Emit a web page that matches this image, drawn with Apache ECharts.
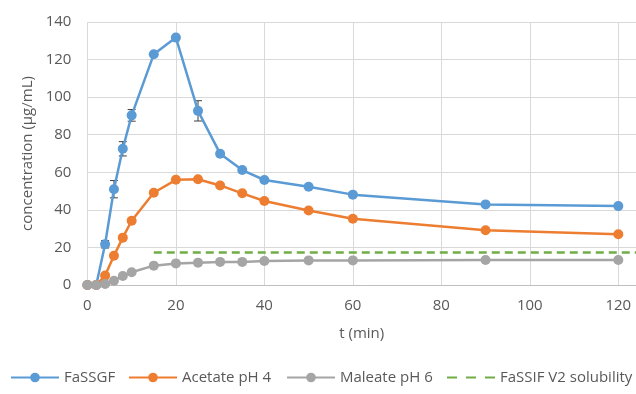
<!DOCTYPE html>
<html>
<head>
<meta charset="utf-8">
<script src="https://cdn.jsdelivr.net/npm/echarts@6/dist/echarts.min.js"></script>
<style>
  html, body { margin: 0; padding: 0; background: #fff; }
  #chart { width: 636px; height: 394px; }
</style>
</head>
<body>
<div id="chart"></div>
<script>
// Sampling times (min)
var times = [0, 2, 4, 6, 8, 10, 15, 20, 25, 30, 35, 40, 50, 60, 90, 120];

// Concentrations (µg/mL) per medium
var fassgf    = [0, 0, 21.7, 51.0, 72.5, 90.3, 122.8, 131.7, 92.7, 69.9, 61.2, 55.9, 52.3, 48.1, 42.9, 42.0];
var fassgfErr = [0, 0, 2.0, 4.6, 3.8, 3.1, 0, 0, 5.4, 0, 0, 0, 0, 0, 0, 0];
var acetate   = [0, 0, 5.0, 15.6, 25.2, 34.2, 49.1, 56.0, 56.3, 53.0, 48.8, 44.7, 39.7, 35.3, 29.1, 27.0];
var maleate   = [0, 0, 0.5, 2.3, 4.8, 6.8, 10.3, 11.5, 11.9, 12.3, 12.3, 12.8, 13.1, 13.1, 13.3, 13.3];

// FaSSIF V2 solubility reference level
var solubilityTimes = [15, 140];
var solubilityLevel = 17.3;

// Axis ticks
var xTicks = { min: 0, max: 124, interval: 20 };
var yTicks = { min: 0, max: 140, interval: 20 };

var seriesNames = ['FaSSGF', 'Acetate pH 4', 'Maleate pH 6', 'FaSSIF V2 solubility'];
var seriesColors = ['#5B9BD5', '#ED7D31', '#A5A5A5', '#70AD47'];

function pairs(xs, ys) {
  return xs.map(function (x, i) { return [x, ys[i]]; });
}

var FONT = '"Open Sans", sans-serif';
var TXT = '#595959';
var GRIDC = '#D9D9D9';

var chart = echarts.init(document.getElementById('chart'), null, { renderer: 'canvas' });

function lineSeries(name, values, color) {
  return {
    name: name,
    type: 'line',
    data: pairs(times, values),
    symbol: 'circle',
    symbolSize: 10,
    showSymbol: true,
    lineStyle: { color: color, width: 2.5 },
    itemStyle: { color: color },
    emphasis: { disabled: true },
    animation: false
  };
}

// one legend box per entry so the row spans the full width
var legendLefts = [10, 128, 286, 446];
var legends = seriesNames.map(function (n, i) {
  var lg = {
    data: [n],
    left: legendLefts[i],
    top: 370,
    padding: 0,
    itemWidth: 48,
    itemHeight: 12,
    textStyle: { fontFamily: FONT, fontSize: 15, color: TXT },
    selectedMode: false
  };
  // the solubility level is a plain dashed line, no marker in its key
  if (i === 3) {
    lg.itemStyle = { opacity: 0 };
    lg.lineStyle = { type: [10, 9] };
  }
  return lg;
});

var errData = times.map(function (t, i) { return [t, fassgf[i], fassgfErr[i]]; })
  .filter(function (d) { return d[2] > 0; });

chart.setOption({
  animation: false,
  backgroundColor: '#ffffff',
  grid: { left: 87.4, right: -0.7, top: 22, bottom: 109 },
  legend: legends,
  xAxis: {
    type: 'value',
    min: xTicks.min,
    max: xTicks.max,
    interval: xTicks.interval,
    name: 't (min)',
    nameLocation: 'middle',
    nameGap: 41,
    nameTextStyle: { fontFamily: FONT, fontSize: 15, color: TXT },
    axisLine: { show: true, onZero: false, lineStyle: { color: '#BFBFBF', width: 1 } },
    axisTick: { show: false },
    axisLabel: { fontFamily: FONT, fontSize: 15, color: TXT, margin: 13, showMaxLabel: false },
    splitLine: { show: true, lineStyle: { color: GRIDC, width: 1 } }
  },
  yAxis: {
    type: 'value',
    min: yTicks.min,
    max: yTicks.max,
    interval: yTicks.interval,
    name: 'concentration (µg/mL)',
    nameLocation: 'middle',
    nameGap: 48,
    nameTextStyle: { fontFamily: FONT, fontSize: 15, color: TXT },
    axisLine: { show: false },
    axisTick: { show: false },
    axisLabel: { fontFamily: FONT, fontSize: 15, color: TXT, margin: 16 },
    splitLine: { show: true, lineStyle: { color: GRIDC, width: 1 } }
  },
  series: [
    {
      name: 'FaSSGF error',
      type: 'custom',
      data: errData,
      z: 3,
      silent: true,
      renderItem: function (params, api) {
        var x = api.value(0), y = api.value(1), e = api.value(2);
        var top = api.coord([x, y + e]);
        var bot = api.coord([x, y - e]);
        var hw = 4;
        var style = { stroke: '#404040', lineWidth: 1 };
        return {
          type: 'group',
          children: [
            { type: 'line', shape: { x1: top[0], y1: top[1], x2: bot[0], y2: bot[1] }, style: style },
            { type: 'line', shape: { x1: top[0] - hw, y1: top[1], x2: top[0] + hw, y2: top[1] }, style: style },
            { type: 'line', shape: { x1: bot[0] - hw, y1: bot[1], x2: bot[0] + hw, y2: bot[1] }, style: style }
          ]
        };
      }
    },
    lineSeries(seriesNames[0], fassgf, seriesColors[0]),
    lineSeries(seriesNames[1], acetate, seriesColors[1]),
    lineSeries(seriesNames[2], maleate, seriesColors[2]),
    {
      name: seriesNames[3],
      type: 'line',
      data: solubilityTimes.map(function (t) { return [t, solubilityLevel]; }),
      symbol: 'none',
      showSymbol: false,
      clip: true,
      lineStyle: { color: seriesColors[3], width: 2.5, type: [8, 5] },
      itemStyle: { color: seriesColors[3] },
      emphasis: { disabled: true },
      animation: false
    }
  ]
});
</script>
</body>
</html>
